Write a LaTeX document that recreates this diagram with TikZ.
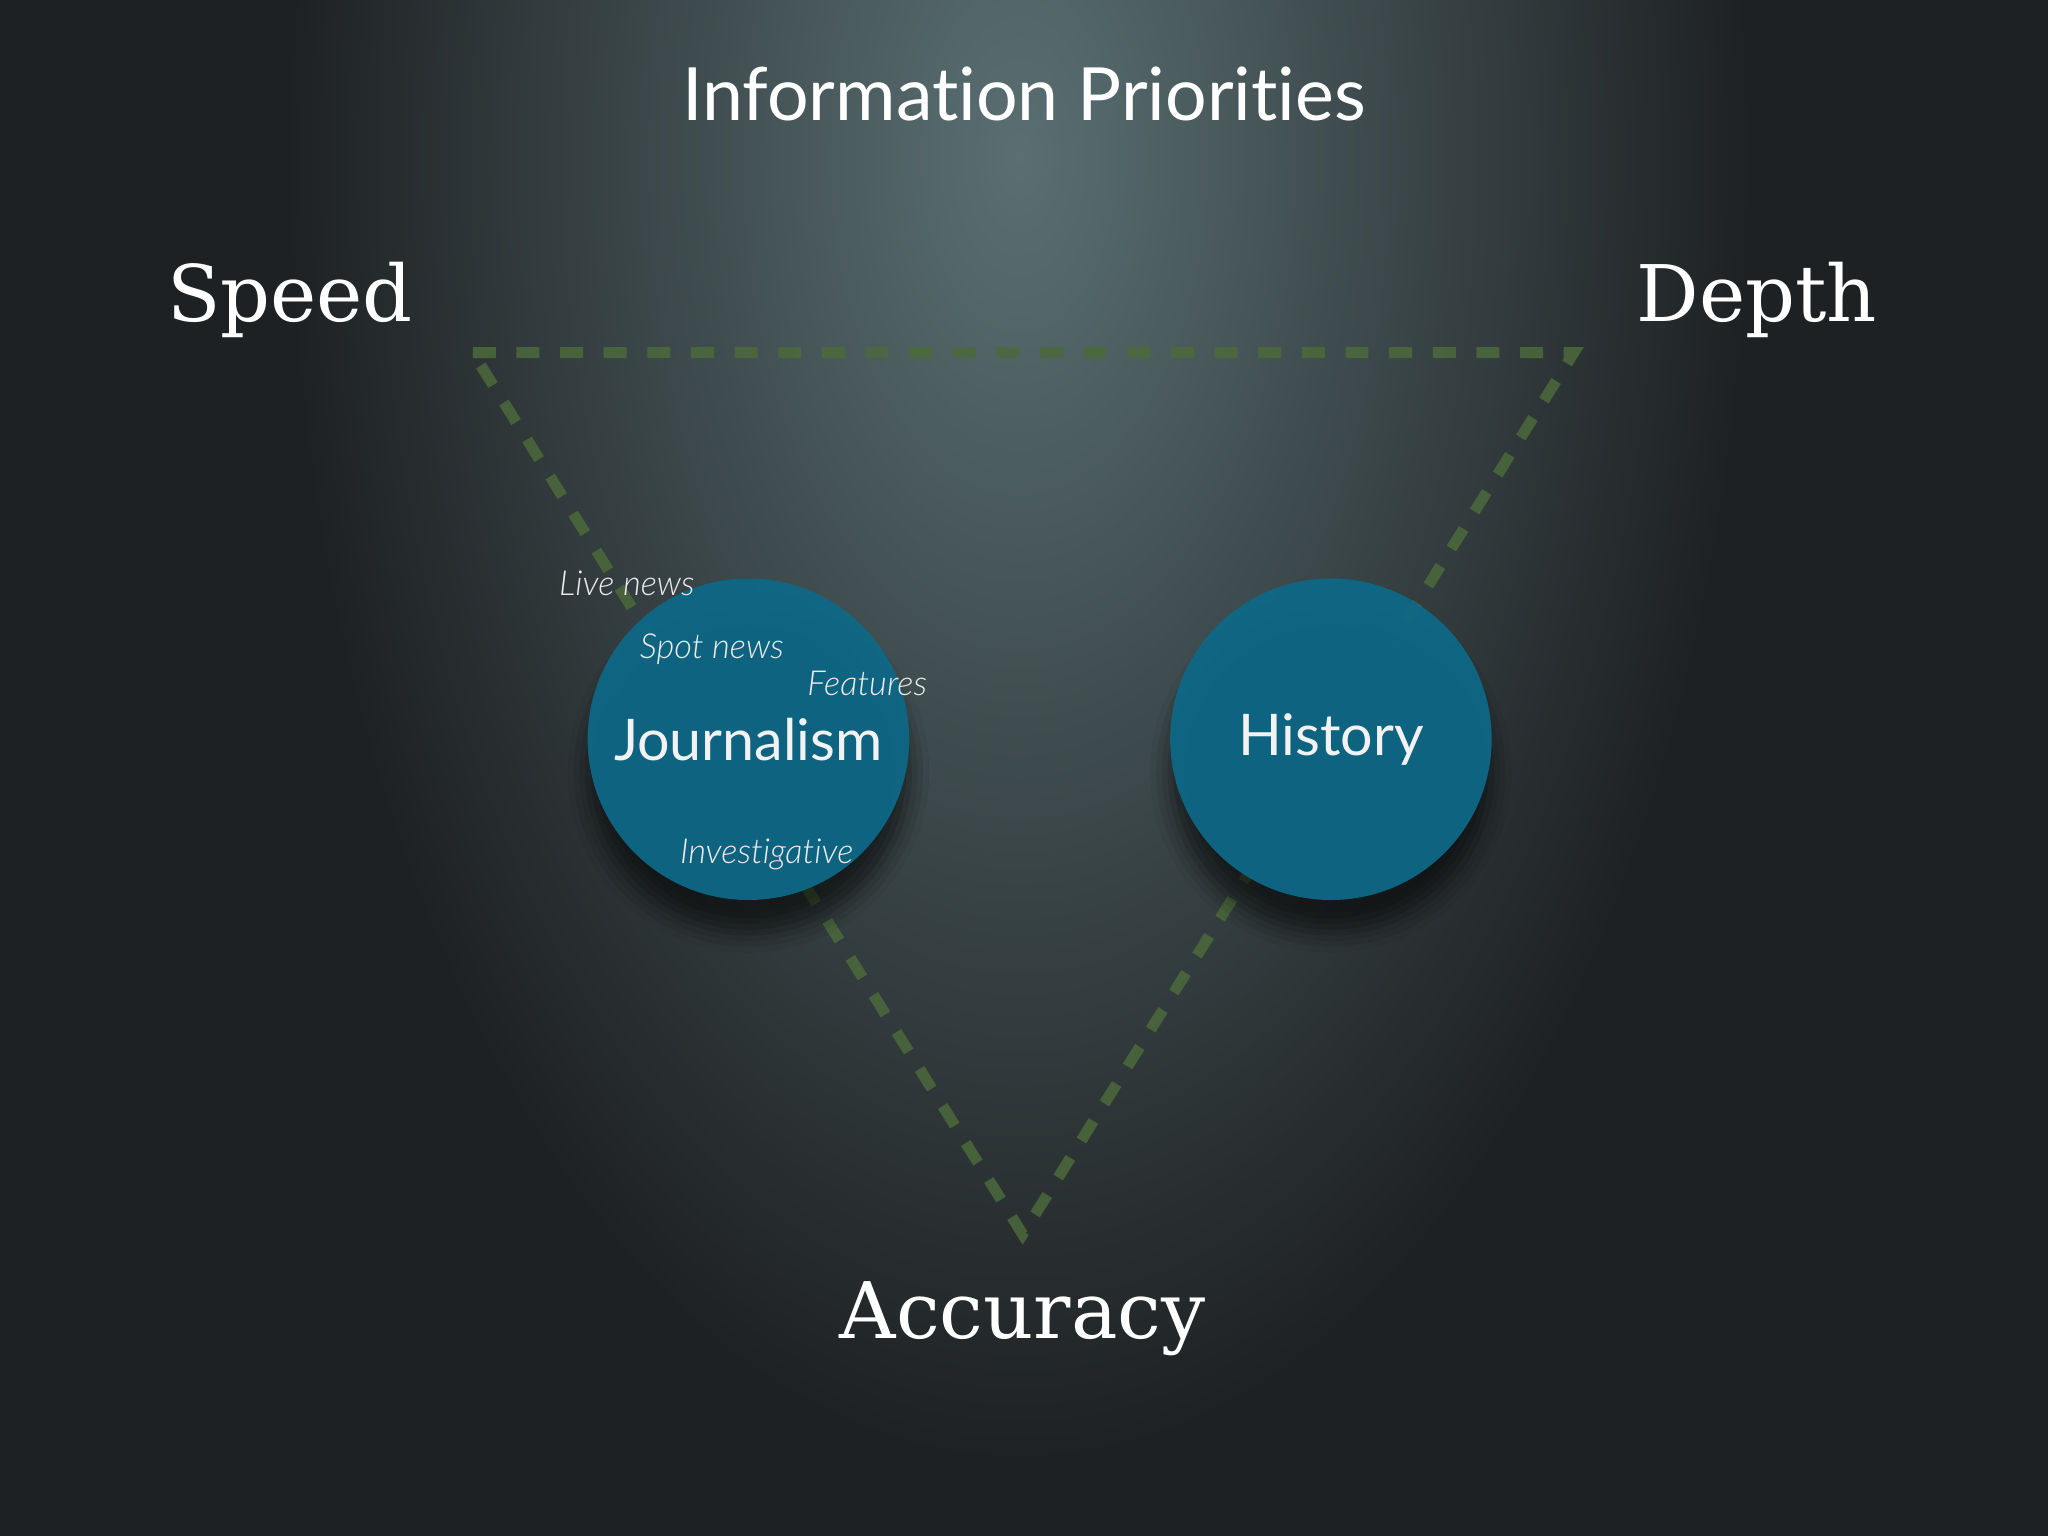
\documentclass[tikz,border=0pt]{standalone}
\usepackage{fontspec}
\setmainfont{Lato}[Ligatures={NoCommon}]
\newfontfamily\typew{DejaVu Serif}
\newfontfamily\latolight{Lato Light}[Ligatures={NoCommon}]
\usetikzlibrary{shadows.blur}
\definecolor{bgdark}{HTML}{1E2123}
\definecolor{bglight}{HTML}{5A6F72}
\definecolor{tri}{HTML}{4C6A3C}
\definecolor{disc}{HTML}{0E6886}
\tikzset{
  corner/.style={text=white,font=\typew\fontsize{17}{20}\selectfont},
  bubble/.style={circle,minimum size=2.46cm,fill=disc,fill opacity=0.95,text opacity=1,text=white!90!gray,font=\fontsize{12.5}{15}\selectfont,blur shadow={shadow xshift=0pt,shadow yshift=-0.25cm,shadow blur radius=0.15cm,shadow opacity=60}},
  tag/.style={text=white!85!gray,font=\latolight\itshape\fontsize{7.5}{9}\selectfont}
}
\begin{document}
\begin{tikzpicture}[x=0.01cm,y=-0.01cm]
\fill[bgdark] (0,0) rectangle (1568,1176);
\begin{scope}
\clip (0,0) rectangle (1568,1176);
\shade[inner color=bglight,outer color=bgdark] (780,120) ellipse (560 and 1000);
\end{scope}
\useasboundingbox (0,0) rectangle (1568,1176);
\coordinate (s) at (362,270);
\coordinate (d) at (1205,270);
\coordinate (a) at (783,945);
\draw[tri,line width=2.4pt,dash pattern=on 5pt off 4.5pt,opacity=0.85] (s) -- (d) -- (a) -- cycle;
\node (title) at (784,72) {\textcolor{white}{\fontsize{16}{19}\selectfont Information Priorities}};
\node[corner] (speed) at (222,230) {Speed};
\node[corner] (depth) at (1345,230) {Depth};
\node[corner] (acc) at (783,1010) {Accuracy};
\node[bubble] (j) at (573,566) {Journalism};
\node[bubble] (h) at (1019,566) {History};
\node[tag] (live) at (480,447) {Live news};
\node[tag] (spot) at (545,497) {Spot news};
\node[tag] (feat) at (664,523) {Features};
\node[tag] (inv) at (587,654) {Investigative};
\end{tikzpicture}
\end{document}
